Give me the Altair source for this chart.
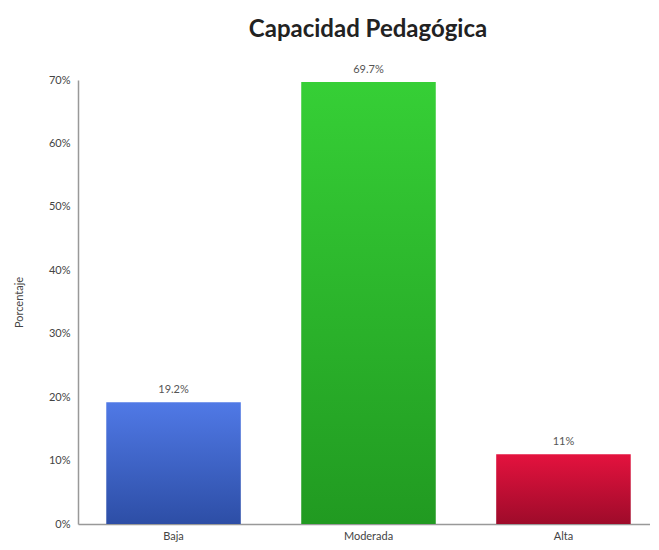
import altair as alt
import pandas as pd

categories = ["Baja", "Moderada", "Alta"]
values = [19.2, 69.7, 11.0]
labels = ["19.2%", "69.7%", "11%"]
y_ticks = [0, 10, 20, 30, 40, 50, 60, 70]

df = pd.DataFrame({"cat": categories, "val": values, "lab": labels})

gradients = {
    "Baja": ("#5079e6", "#2d4ea6"),
    "Moderada": ("#36cf36", "#219a21"),
    "Alta": ("#e4123e", "#9e0b2a"),
}

x_scale = alt.Scale(paddingInner=0.31, paddingOuter=0.145, range=[0, 581])

x_enc = alt.X("cat:N", sort=categories, title=None, scale=x_scale,
              axis=alt.Axis(labelAngle=0, labelFont="Lato", labelFontSize=11,
                            labelColor="#444", domainColor="#999", domainWidth=1.5,
                            ticks=False, labelPadding=6))
y_enc = alt.Y("val:Q", title="Porcentaje",
              scale=alt.Scale(domain=[0, 70], nice=False),
              axis=alt.Axis(values=y_ticks, labelExpr="datum.value + '%'", grid=False,
                            ticks=False, labelFont="Lato", labelFontSize=11,
                            labelColor="#444", domainColor="#999", domainWidth=1.5,
                            titleFont="Lato", titleFontSize=11, titleFontWeight="normal",
                            titleColor="#444", titlePadding=24, labelPadding=8))

layers = []
for c in categories:
    top, bot = gradients[c]
    layers.append(
        alt.Chart(df).transform_filter(alt.datum.cat == c).mark_bar(
            color=alt.Gradient(gradient="linear", x1=0, y1=0, x2=0, y2=1,
                               stops=[alt.GradientStop(color=top, offset=0),
                                      alt.GradientStop(color=bot, offset=1)])
        ).encode(x=x_enc, y=y_enc)
    )

text = alt.Chart(df).mark_text(dy=-12, font="Lato", fontSize=11, color="#555").encode(
    x=alt.X("cat:N", sort=categories), y="val:Q", text="lab:N")

chart = alt.layer(*layers, text).properties(
    width=572, height=444,
    title=alt.TitleParams("Capacidad Pedagógica", font="Lato", fontSize=24,
                          fontWeight="bold", color="#222", offset=22,
                          anchor="middle", dx=4),
    autosize=alt.AutoSizeParams(type="none"),
    padding={"left": 70, "top": 72, "right": 0, "bottom": 20},
).configure_view(stroke=None)

chart.save("out.html", embed_options={"renderer": "svg", "actions": False})
